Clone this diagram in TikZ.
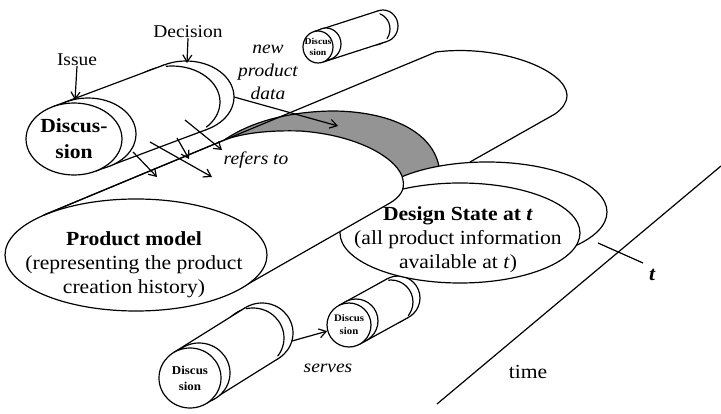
\documentclass[tikz,border=0pt]{standalone}
\usepackage{fontspec}
\setmainfont{Liberation Serif}[FakeStretch=1.08]
\usetikzlibrary{calc,shapes.geometric,arrows.meta}

\tikzset{
  outline/.style={line width=1.2pt, line join=round},
  face/.style={outline, draw, fill=white},
  tip/.style={-{Straight Barb[length=7pt,width=9pt,line width=1.2pt]}},
  conn/.style={outline, tip},
  bigtext/.style={font=\fontsize{20}{24}\selectfont, align=center, inner sep=0pt},
  midtext/.style={font=\fontsize{18}{23}\selectfont, align=center, inner sep=0pt},
  shaded/.style={fill=black!42}
}

% A discussion cylinder: #1 name, (#2,#3) centre of the front face,
% #4/#5 radii, (#6,#7) axis to the back face, (#8,#9) thickness of the end rings
\newcommand\discyl[9]{%
  \pgfmathsetmacro\cylta{atan2(-(#5)*(#6),(#4)*(#7))}%
  \pgfmathsetmacro\cyltb{\cylta+180}%
  \coordinate (#1-f) at (#2,#3);
  \coordinate (#1-b) at ({#2+(#6)},{#3+(#7)});
  \path[face] (#1-b) ellipse [x radius=#4, y radius=#5];
  \path[face] ($(#1-b)-(#8,#9)$) ellipse [x radius=#4, y radius=#5];
  \fill[white] ($(#1-f)+(\cylta:#4 and #5)$) -- ($(#1-b)+(\cylta:#4 and #5)$)
    -- ($(#1-b)+(\cyltb:#4 and #5)$) -- ($(#1-f)+(\cyltb:#4 and #5)$) -- cycle;
  \draw[outline] ($(#1-f)+(\cylta:#4 and #5)$) -- ($(#1-b)+(\cylta:#4 and #5)$);
  \draw[outline] ($(#1-f)+(\cyltb:#4 and #5)$) -- ($(#1-b)+(\cyltb:#4 and #5)$);
  \path[face] ($(#1-f)+(#8,#9)$) ellipse [x radius=#4, y radius=#5];
  \node[face, ellipse, inner sep=0pt, minimum width={2*(#4)}, minimum height={2*(#5)}] (#1) at (#1-f) {};
}

\begin{document}
\begin{tikzpicture}[x=1pt, y=-1pt]
\useasboundingbox (0,0) rectangle (721,414);

% small discussion at the top
\discyl{dtop}{318}{47}{15}{16}{65}{-21}{8}{-3}
\node[font=\bfseries\fontsize{9}{11}\selectfont, align=center, inner sep=0pt] (dtoptext) at (dtop) {Discus\\sion};

% the product model tube beyond the time t
\coordinate (T1) at (44,215);
\coordinate (T2) at (436,52);
\coordinate (G) at ($(T1)!0.46!(T2)$);
\coordinate (P2b) at (470,162);
\fill[white] (G) -- (T2) .. controls (500,44) and (566,70) .. (567,95)
  .. controls (567,103) and (562,109) .. (555,114) -- (P2b) -- (420,195)
  -- (440,177) .. controls (440,135) and (395,112) .. (335,111)
  .. controls (290,111) and (250,122) .. (G);
\draw[outline] (T2) .. controls (500,44) and (566,70) .. (567,95)
  .. controls (567,103) and (562,109) .. (555,114) -- (P2b);

% the cut through the tube at t
\path[shaded] (G) .. controls (250,122) and (290,111) .. (335,111)
  .. controls (395,112) and (440,135) .. (440,177) -- (412,205) -- (300,200) -- cycle;
\draw[outline] (G) .. controls (250,122) and (290,111) .. (335,111)
  .. controls (395,112) and (440,135) .. (440,177);

% discussion serving the design state
\discyl{dmid}{349}{325}{22}{22}{49}{-27}{7}{-4}
\node[font=\bfseries\fontsize{10}{13}\selectfont, align=center, inner sep=0pt] (dmidtext) at (dmid) {Discus\\sion};

% design state slice
\path[face] (487,212) ellipse [x radius=120, y radius=50];
\node[face, ellipse, inner sep=0pt, minimum width=240, minimum height=100] (ds) at (460,233) {};
\node[bigtext] (dstext) at (458,240) {\textbf{Design State at \textit{t}}\\(all product information\\available at \textit{t})};

% the product model tube up to t
\coordinate (PB) at (241,288);
\path[face] (T1) -- (G) .. controls (240,134) and (265,130) .. (300,131)
  .. controls (360,135) and (400,160) .. (403,180)
  .. controls (405,190) and (400,197) .. (390,203) -- (PB) -- cycle;
\node[face, ellipse, inner sep=0pt, minimum width=262, minimum height=112] (pm) at (136,255) {};
\node[bigtext] (pmtext) at (134,265) {\textbf{Product model}\\(representing the product\\creation history)};
\draw[outline] (T1) -- (T2);

% the discussion at the upper left
\discyl{dtl}{74}{139}{48}{36}{112}{-42}{14}{-5}
\node[font=\bfseries\fontsize{20}{26}\selectfont, align=center, inner sep=0pt] (dtltext) at (dtl) {Discus-\\sion};

% discussion at the bottom
\discyl{dbl}{190}{378}{31}{30}{72}{-45}{9}{-5}
\node[font=\bfseries\fontsize{12}{16}\selectfont, align=center, inner sep=0pt] (dbltext) at (dbl) {Discus\\sion};

% labels
\node[midtext] (issue) at (77,60) {Issue};
\node[midtext] (decision) at (188,32) {Decision};
\node[midtext, font=\itshape\fontsize{18}{23}\selectfont] (npd) at (268,72) {new\\product\\data};
\node[midtext, font=\itshape\fontsize{18}{23}\selectfont] (refers) at (256,160) {refers to};
\node[midtext, font=\itshape\fontsize{18}{23}\selectfont] (serves) at (328,368) {serves};
\node[bigtext] (time) at (528,372) {time};
\node[bigtext, font=\bfseries\itshape\fontsize{20}{24}\selectfont] (tlabel) at (652,275) {t};

% connectors
\coordinate (issueend) at (75,100);
\coordinate (decend) at (187,63);
\draw[conn] (issue.south) -- (issueend);
\draw[conn] (decision.south) -- (decend);
\coordinate (npdstart) at ($(dtl-b)+(48,0)$);
\coordinate (npdend) at (338,126);
\draw[conn] (npdstart) -- (npdend);
\coordinate (ra1) at (133,152); \coordinate (rb1) at (157,177);
\coordinate (ra2) at (150,142); \coordinate (rb2) at (212,177);
\coordinate (ra3) at (177,138); \coordinate (rb3) at (189,159);
\coordinate (ra4) at (185,120); \coordinate (rb4) at (222,150);
\foreach \i in {1,...,4} \draw[conn] (ra\i) -- (rb\i);
\coordinate (servstart) at ($(dbl-b)+(30,8)$);
\draw[conn] (servstart) -- (dmid);

% time axis
\coordinate (tA) at (437,404);
\coordinate (tB) at (721,166);
\draw[outline] (tA) -- (tB);
\coordinate (tk1) at (598,243);
\coordinate (tk2) at (643,263);
\draw[outline] (tk1) -- (tk2);
\end{tikzpicture}
\end{document}
